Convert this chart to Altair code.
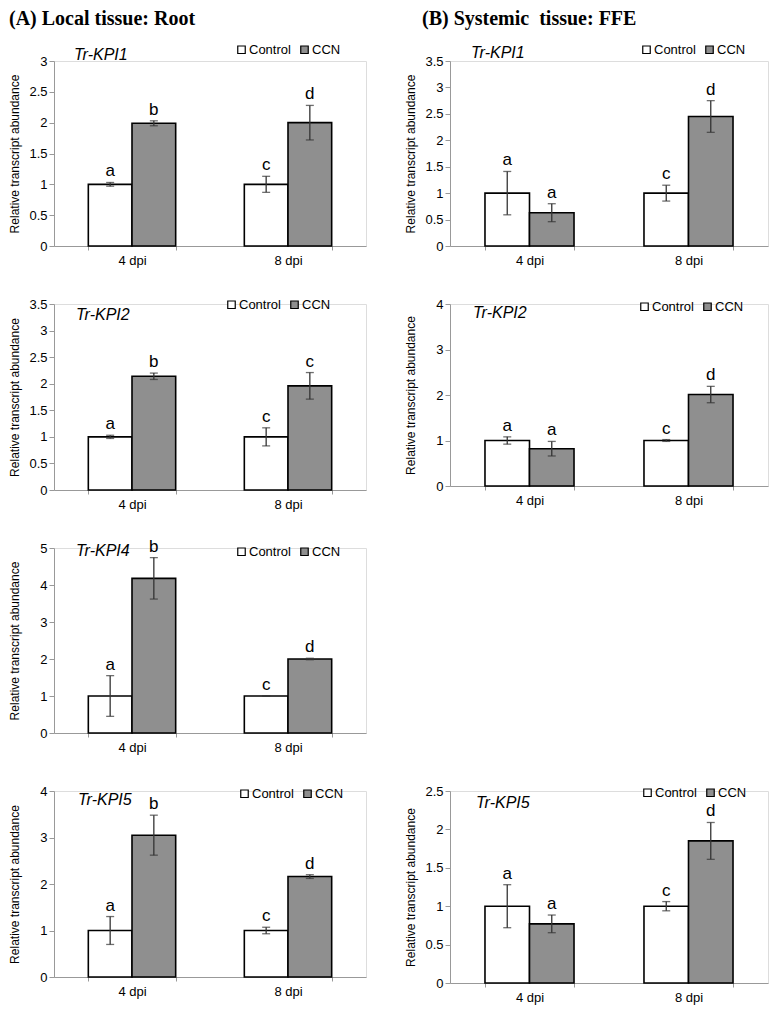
import altair as alt
import pandas as pd

days = ["4 dpi", "8 dpi"]
treatments = ["Control", "CCN"]
colors = ["#ffffff", "#8f8f8f"]
ytitle = "Relative transcript abundance"
header_a = "(A) Local tissue: Root"
header_b = "(B) Systemic\u00a0 tissue: FFE"

# order of values: [4 dpi Control, 4 dpi CCN, 8 dpi Control, 8 dpi CCN]
a1_gene = "Tr-KPI1"
a1_mean = [1.0, 1.99, 1.0, 2.0]
a1_err = [0.03, 0.04, 0.13, 0.28]
a1_letters = ["a", "b", "c", "d"]
a1_ticks = [0, 0.5, 1, 1.5, 2, 2.5, 3]

a2_gene = "Tr-KPI2"
a2_mean = [1.0, 2.14, 1.0, 1.96]
a2_err = [0.03, 0.06, 0.17, 0.25]
a2_letters = ["a", "b", "c", "c"]
a2_ticks = [0, 0.5, 1, 1.5, 2, 2.5, 3, 3.5]

a3_gene = "Tr-KPI4"
a3_mean = [1.0, 4.18, 1.0, 2.0]
a3_err = [0.55, 0.56, 0.01, 0.02]
a3_letters = ["a", "b", "c", "d"]
a3_ticks = [0, 1, 2, 3, 4, 5]

a4_gene = "Tr-KPI5"
a4_mean = [1.0, 3.05, 1.0, 2.16]
a4_err = [0.3, 0.43, 0.07, 0.04]
a4_letters = ["a", "b", "c", "d"]
a4_ticks = [0, 1, 2, 3, 4]

b1_gene = "Tr-KPI1"
b1_mean = [1.0, 0.63, 1.0, 2.45]
b1_err = [0.41, 0.17, 0.15, 0.3]
b1_letters = ["a", "a", "c", "d"]
b1_ticks = [0, 0.5, 1, 1.5, 2, 2.5, 3, 3.5]

b2_gene = "Tr-KPI2"
b2_mean = [1.0, 0.82, 1.0, 2.01]
b2_err = [0.08, 0.16, 0.02, 0.18]
b2_letters = ["a", "a", "c", "d"]
b2_ticks = [0, 1, 2, 3, 4]

b4_gene = "Tr-KPI5"
b4_mean = [1.0, 0.77, 1.0, 1.85]
b4_err = [0.28, 0.115, 0.06, 0.24]
b4_letters = ["a", "a", "c", "d"]
b4_ticks = [0, 0.5, 1, 1.5, 2, 2.5]

FONT = "Liberation Sans"


def panel(gene, means, errs, letters, ticks, width, height,
          gene_x, gene_y, legend_x, legend_y, header=None, header_dx=0):
    df = pd.DataFrame({
        "day": [d for d in days for _ in treatments],
        "trt": treatments * 2,
        "mean": means,
        "err": errs,
        "letter": letters,
    })
    df["lo"] = df["mean"] - df["err"]
    df["hi"] = df["mean"] + df["err"]
    ymax = ticks[-1]
    has_decimals = any(float(t) != int(t) for t in ticks)

    x = alt.X("day:N", sort=days,
              scale=alt.Scale(paddingInner=0.44, paddingOuter=0.22),
              axis=alt.Axis(title=None, labelAngle=0, tickBand="extent",
                            labelFontSize=13, labelFont=FONT, labelColor="#000",
                            domainColor="#999", tickColor="#999", tickSize=4,
                            labelPadding=4))
    xo = alt.XOffset("trt:N", sort=treatments,
                     scale=alt.Scale(paddingInner=0, paddingOuter=0))
    yscale = alt.Scale(domain=[0, ymax], nice=False, zero=True)
    yaxis = alt.Axis(values=ticks, format="~g", grid=False, title=ytitle,
                     labelOverlap=False,
                     titleFont=FONT, titleFontSize=12, titleFontWeight="normal",
                     titleColor="#000", titlePadding=7 if has_decimals else 18,
                     labelFontSize=13, labelFont=FONT, labelColor="#000",
                     domainColor="#999", tickColor="#999", tickSize=5)

    def Y(field):
        return alt.Y(field, type="quantitative", scale=yscale, axis=yaxis)

    color = alt.Color("trt:N", sort=treatments,
                      scale=alt.Scale(domain=treatments, range=colors),
                      legend=alt.Legend(title=None, orient="none", direction="horizontal",
                                        legendX=legend_x, legendY=legend_y,
                                        symbolType="square", symbolSize=56,
                                        symbolStrokeColor="#000", symbolStrokeWidth=1.2,
                                        labelFontSize=13, labelFont=FONT, labelColor="#000",
                                        labelOffset=1, columnPadding=7))

    base = alt.Chart(df)
    bars = base.mark_bar(stroke="#000", strokeWidth=1.6).encode(
        x=x, xOffset=xo, y=Y("mean"), color=color)
    rules = base.mark_rule(color="#333", strokeWidth=1.3).encode(
        x=x, xOffset=xo, y=Y("lo"), y2=alt.Y2("hi"))
    cap_lo = base.mark_tick(color="#333", size=8, thickness=1.3).encode(
        x=x, xOffset=xo, y=Y("lo"))
    cap_hi = base.mark_tick(color="#333", size=8, thickness=1.3).encode(
        x=x, xOffset=xo, y=Y("hi"))
    text = base.mark_text(font=FONT, fontSize=17, dy=-6, baseline="alphabetic",
                          color="#000").encode(
        x=x, xOffset=xo, y=Y("hi"), text="letter:N")
    gene_txt = alt.Chart(pd.DataFrame({"gene": [gene]})).mark_text(
        font=FONT, fontSize=16, fontStyle="italic", align="left", baseline="middle",
        color="#000").encode(x=alt.value(gene_x), y=alt.value(gene_y), text="gene:N")
    props = dict(width=width, height=height)
    if header:
        props["title"] = alt.Title(header, anchor="start", frame="group", orient="top",
                                   font="Liberation Serif", fontSize=20, fontWeight="bold",
                                   color="#000", dx=header_dx, dy=-14, offset=0)
    return alt.layer(bars, rules, cap_lo, cap_hi, text, gene_txt).properties(**props)


WA = 312
WB = 318

A1 = panel(a1_gene, a1_mean, a1_err, a1_letters, a1_ticks, WA, 185, 20, -6, 181, -18,
           header=header_a, header_dx=-45)
A2 = panel(a2_gene, a2_mean, a2_err, a2_letters, a2_ticks, WA, 186, 22, 11, 171, -6)
A3 = panel(a3_gene, a3_mean, a3_err, a3_letters, a3_ticks, WA, 185, 22, 3, 181, -3)
A4 = panel(a4_gene, a4_mean, a4_err, a4_letters, a4_ticks, WA, 186, 24, 9, 184, -4)
B1 = panel(b1_gene, b1_mean, b1_err, b1_letters, b1_ticks, WB, 185, 21, -8, 190, -18,
           header=header_b, header_dx=-28)
B2 = panel(b2_gene, b2_mean, b2_err, b2_letters, b2_ticks, WB, 182, 23, 9, 188, -4)
B4 = panel(b4_gene, b4_mean, b4_err, b4_letters, b4_ticks, WB, 192, 26, 12, 191, -5)

blank = alt.Chart(pd.DataFrame({"v": [0]})).mark_text(text="", opacity=0).encode(
    x=alt.X("v:Q", axis=None), y=alt.Y("v:Q", axis=None)).properties(
    width=WB, height=185, view=alt.ViewBackground(strokeWidth=0, stroke="transparent"))

RES = dict(x="independent", y="independent", color="independent", xOffset="independent")

chart = alt.concat(
    A1, B1, A2, B2, A3, blank, A4, B4,
    columns=2, bounds="flush", spacing={"row": 58, "column": 84},
).resolve_scale(**RES).resolve_legend(color="independent").properties(
    padding=0
).configure_view(strokeWidth=0, stroke="transparent").configure(background="#ffffff")

chart.save("out.html", embed_options={"renderer": "svg", "actions": False})
